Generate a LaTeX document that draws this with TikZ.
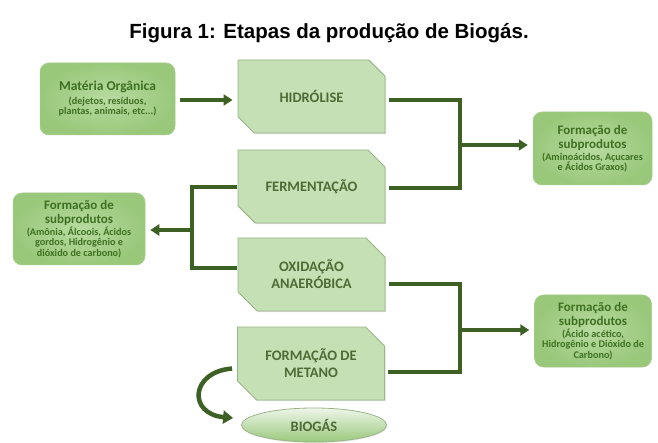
\documentclass[tikz,border=0pt]{standalone}
\usepackage{fontspec}
\setmainfont{Liberation Sans}
\newfontfamily\calib{Carlito}
\usetikzlibrary{shapes.misc,shapes.geometric,arrows.meta,calc,shadows}
\definecolor{procfill}{HTML}{C6E0B5}
\definecolor{procdraw}{HTML}{9AB589}
\definecolor{proctext}{HTML}{4F6B35}
\definecolor{sidein}{HTML}{B8DBA0}
\definecolor{sideout}{HTML}{99C87B}
\definecolor{sidetext}{HTML}{3E7022}
\definecolor{linecol}{HTML}{3D6025}
\tikzset{
  procbox/.style={chamfered rectangle, chamfered rectangle corners={north east,south west},
    chamfered rectangle xsep=9pt, chamfered rectangle ysep=10pt,
    minimum width=147pt, minimum height=73pt, inner sep=0pt,
    fill=procfill, draw=procdraw, line width=0.9pt,
    font=\calib\bfseries\fontsize{14.5}{17}\selectfont, text=proctext, align=center,
    drop shadow={opacity=0.25, shadow xshift=1.2pt, shadow yshift=-1.2pt}},
  sidebox/.style={rounded corners=9pt, inner color=sidein, outer color=sideout,
    draw=sideout!90!white, line width=0.5pt, inner sep=0pt, align=center,
    text=sidetext, font=\calib\bfseries\fontsize{13}{14.5}\selectfont},
  conn/.style={draw=linecol, line width=3.5pt},
  arr/.style={conn, -{Triangle[length=9pt,width=11pt]}},
}
\newcommand{\st}[1]{{\fontsize{10.2}{11}\selectfont #1}}
\begin{document}
\begin{tikzpicture}[x=1pt,y=-1pt]
\useasboundingbox (0,0) rectangle (658,443);
\fill[white] (0,0) rectangle (658,443);
\node[font=\bfseries\fontsize{20.5}{24}\selectfont] (title) at (329,33) {Figura 1: Etapas da produção de Biogás.};

\node[sidebox, minimum width=135pt, minimum height=72pt] (mat) at (107.5,99)
  {\fontsize{13.5}{15}\selectfont Matéria Orgânica\\[-1pt]\st{(dejetos, resíduos,}\\[-4pt]\st{plantas, animais, etc...)}};

\node[procbox] (hid) at (311.5,96.5) {HIDRÓLISE};
\node[procbox] (fer) at (311.5,186.5) {FERMENTAÇÃO};
\node[procbox] (oxi) at (311.5,274.5) {OXIDAÇÃO\\ANAERÓBICA};
\node[procbox] (met) at (311,363.5) {FORMAÇÃO DE\\METANO};

\node[ellipse, minimum width=145pt, minimum height=34pt, inner sep=0pt,
  top color=white!70!procfill, bottom color=sideout, draw=procdraw, line width=0.8pt,
  font=\calib\bfseries\fontsize{14.5}{17}\selectfont, text=proctext,
  drop shadow={opacity=0.2, shadow xshift=1pt, shadow yshift=-1pt}] (bio) at (314,425) {BIOGÁS};

\node[sidebox, minimum width=119pt, minimum height=73pt] (r1) at (592.5,148.5)
  {Formação de\\subprodutos\\[-3pt]\st{(Aminoácidos, Açucares}\\[-4pt]\st{e Ácidos Graxos)}};
\node[sidebox, minimum width=132pt, minimum height=72pt] (l1) at (79,229)
  {Formação de\\subprodutos\\[-3pt]\st{(Amônia, Álcoois, Ácidos}\\[-4pt]\st{gordos, Hidrogênio e}\\[-4pt]\st{dióxido de carbono)}};
\node[sidebox, minimum width=117pt, minimum height=72pt] (r2) at (593,331)
  {Formação de\\subprodutos\\[-3pt]\st{(Ácido acético,}\\[-4pt]\st{Hidrogênio e Dióxido de}\\[-4pt]\st{Carbono)}};

% arrow materia -> hidrolise
\draw[arr] ($(mat.east)+(5,1)$) -- ($(hid.west |- 0,100)+(-5,0)$);

% right bracket 1
\coordinate (b1) at (460,145);
\draw[conn, line cap=rect] ($(hid.east |- 0,100)+(5,0)$) -- (460,100) -- (460,188) -- ($(fer.east |- 0,188)+(5,0)$);
\draw[arr] (b1) -- ($(r1.west |- b1)+(-5,0)$);

% left bracket
\coordinate (b2) at (192,230);
\draw[conn, line cap=rect] ($(fer.west |- 0,187)+(-2,0)$) -- (192,187) -- (192,268) -- ($(oxi.west |- 0,268)+(-2,0)$);
\draw[arr] (b2) -- ($(l1.east |- b2)+(5,0)$);

% right bracket 2
\coordinate (b3) at (460,330);
\draw[conn, line cap=rect] ($(oxi.east |- 0,284)+(5,0)$) -- (460,284) -- (460,372) -- ($(met.east |- 0,372)+(5,0)$);
\draw[arr] (b3) -- ($(r2.west |- b3)+(-5,0)$);

% curved arrow to biogas
\draw[draw=linecol, line width=4.5pt, -{Triangle[length=10pt,width=13pt]}]
  ($(met.west)+(-5,5)$) .. controls (190,372) and (188,414) .. ($(bio.west)+(-8,-7)$);
\end{tikzpicture}
\end{document}
